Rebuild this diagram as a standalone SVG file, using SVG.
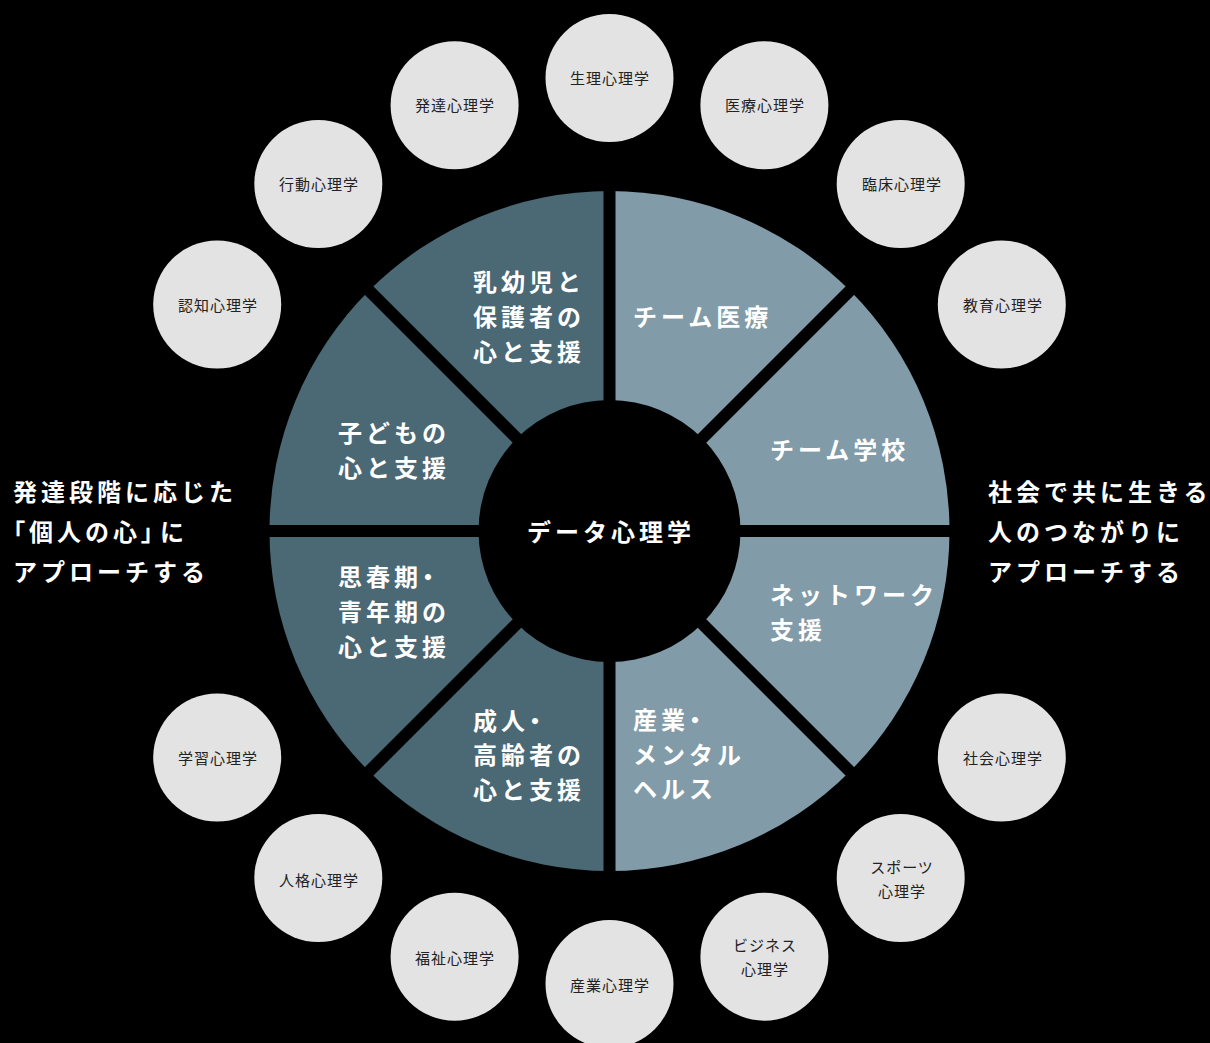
<svg xmlns="http://www.w3.org/2000/svg" width="1210" height="1043" viewBox="0 0 1210 1043">
<style>
.dark{fill:#4b6875}
.light{fill:#819ba8}
.sep{stroke:#000;stroke-width:12;fill:none}
.big{font-family:"Noto Sans CJK JP","Noto Sans",sans-serif;font-weight:700;font-size:24px;fill:#fff;letter-spacing:4px}
.p{font-feature-settings:"palt"}
.bub{fill:#e3e3e3}
.lbl{font-family:"Noto Sans CJK JP","Noto Sans",sans-serif;font-size:15px;fill:#222;text-anchor:middle;letter-spacing:1px}
</style>
<rect width="1210" height="1043" fill="#000"/>
<g id="sectors">
<g id="s-team-iryo"><path class="light" d="M609.5 531 L609.5 191 A340 340 0 0 1 849.9 290.6 Z"/><text class="big" x="633" y="326">チーム医療</text></g>
<g id="s-team-gakko"><path class="light" d="M609.5 531 L849.9 290.6 A340 340 0 0 1 949.5 531 Z"/><text class="big" x="770" y="459">チーム学校</text></g>
<g id="s-network"><path class="light" d="M609.5 531 L949.5 531 A340 340 0 0 1 849.9 771.4 Z"/><text class="big" x="770" y="604" letter-spacing="2.5">ネットワーク</text><text class="big" x="770" y="639">支援</text></g>
<g id="s-sangyo"><path class="light" d="M609.5 531 L849.9 771.4 A340 340 0 0 1 609.5 871 Z"/><text class="big" x="633" y="729">産業<tspan class="p">・</tspan></text><text class="big" x="633" y="764">メンタル</text><text class="big" x="633" y="798">ヘルス</text></g>
<g id="s-seijin"><path class="dark" d="M609.5 531 L609.5 871 A340 340 0 0 1 369.1 771.4 Z"/><text class="big" x="473" y="730">成人<tspan class="p">・</tspan></text><text class="big" x="473" y="764">高齢者の</text><text class="big" x="473" y="799">心と支援</text></g>
<g id="s-shishunki"><path class="dark" d="M609.5 531 L369.1 771.4 A340 340 0 0 1 269.5 531 Z"/><text class="big" x="338" y="586">思春期<tspan class="p">・</tspan></text><text class="big" x="338" y="621">青年期の</text><text class="big" x="338" y="656">心と支援</text></g>
<g id="s-kodomo"><path class="dark" d="M609.5 531 L269.5 531 A340 340 0 0 1 369.1 290.6 Z"/><text class="big" x="338" y="442">子どもの</text><text class="big" x="338" y="477">心と支援</text></g>
<g id="s-nyuyoji"><path class="dark" d="M609.5 531 L369.1 290.6 A340 340 0 0 1 609.5 191 Z"/><text class="big" x="473" y="291">乳幼児と</text><text class="big" x="473" y="326">保護者の</text><text class="big" x="473" y="361">心と支援</text></g>
</g>
<g id="separators">
<line class="sep" x1="609.5" y1="183" x2="609.5" y2="879"/>
<line class="sep" x1="261" y1="531" x2="958" y2="531"/>
<line class="sep" x1="363.5" y1="285" x2="855.5" y2="777"/>
<line class="sep" x1="855.5" y1="285" x2="363.5" y2="777"/>
</g>
<g id="center">
<circle cx="609.5" cy="531" r="131" fill="#000"/>
<text class="big" x="611" y="541" text-anchor="middle" letter-spacing="3">データ心理学</text>
</g>
<g id="left-caption">
<text class="big" x="13" y="501">発達段階に応じた</text>
<text class="big" x="13" y="541"><tspan class="p">「</tspan>個人の心<tspan class="p">」</tspan><tspan dx="3">に</tspan></text>
<text class="big" x="13" y="581">アプローチする</text>
</g>
<g id="right-caption">
<text class="big" x="988" y="501" letter-spacing="3">社会で共に生きる</text>
<text class="big" x="988" y="541">人のつながりに</text>
<text class="big" x="988" y="581">アプローチする</text>
</g>
<g id="bubbles">
<g id="b-seiri"><circle class="bub" cx="609.5" cy="78" r="64"/><text class="lbl" x="610" y="84">生理心理学</text></g>
<g id="b-iryo"><circle class="bub" cx="764.4" cy="105.3" r="64"/><text class="lbl" x="765" y="111">医療心理学</text></g>
<g id="b-rinsho"><circle class="bub" cx="900.7" cy="184" r="64"/><text class="lbl" x="902" y="190">臨床心理学</text></g>
<g id="b-kyoiku"><circle class="bub" cx="1001.8" cy="304.5" r="64"/><text class="lbl" x="1003" y="311">教育心理学</text></g>
<g id="b-shakai"><circle class="bub" cx="1001.8" cy="757.5" r="64"/><text class="lbl" x="1003" y="764">社会心理学</text></g>
<g id="b-sports"><circle class="bub" cx="900.7" cy="878" r="64"/><text class="lbl" x="902" y="873">スポーツ</text><text class="lbl" x="902" y="897">心理学</text></g>
<g id="b-business"><circle class="bub" cx="764.4" cy="956.7" r="64"/><text class="lbl" x="765" y="951">ビジネス</text><text class="lbl" x="765" y="975">心理学</text></g>
<g id="b-sangyo"><circle class="bub" cx="609.5" cy="984" r="64"/><text class="lbl" x="610" y="991">産業心理学</text></g>
<g id="b-fukushi"><circle class="bub" cx="454.6" cy="956.7" r="64"/><text class="lbl" x="455" y="964">福祉心理学</text></g>
<g id="b-jinkaku"><circle class="bub" cx="318.3" cy="878" r="64"/><text class="lbl" x="319" y="886">人格心理学</text></g>
<g id="b-gakushu"><circle class="bub" cx="217.2" cy="757.5" r="64"/><text class="lbl" x="218" y="764">学習心理学</text></g>
<g id="b-ninchi"><circle class="bub" cx="217.2" cy="304.5" r="64"/><text class="lbl" x="218" y="311">認知心理学</text></g>
<g id="b-kodo"><circle class="bub" cx="318.3" cy="184" r="64"/><text class="lbl" x="319" y="190">行動心理学</text></g>
<g id="b-hattatsu"><circle class="bub" cx="454.6" cy="105.3" r="64"/><text class="lbl" x="455" y="111">発達心理学</text></g>
</g>
</svg>
